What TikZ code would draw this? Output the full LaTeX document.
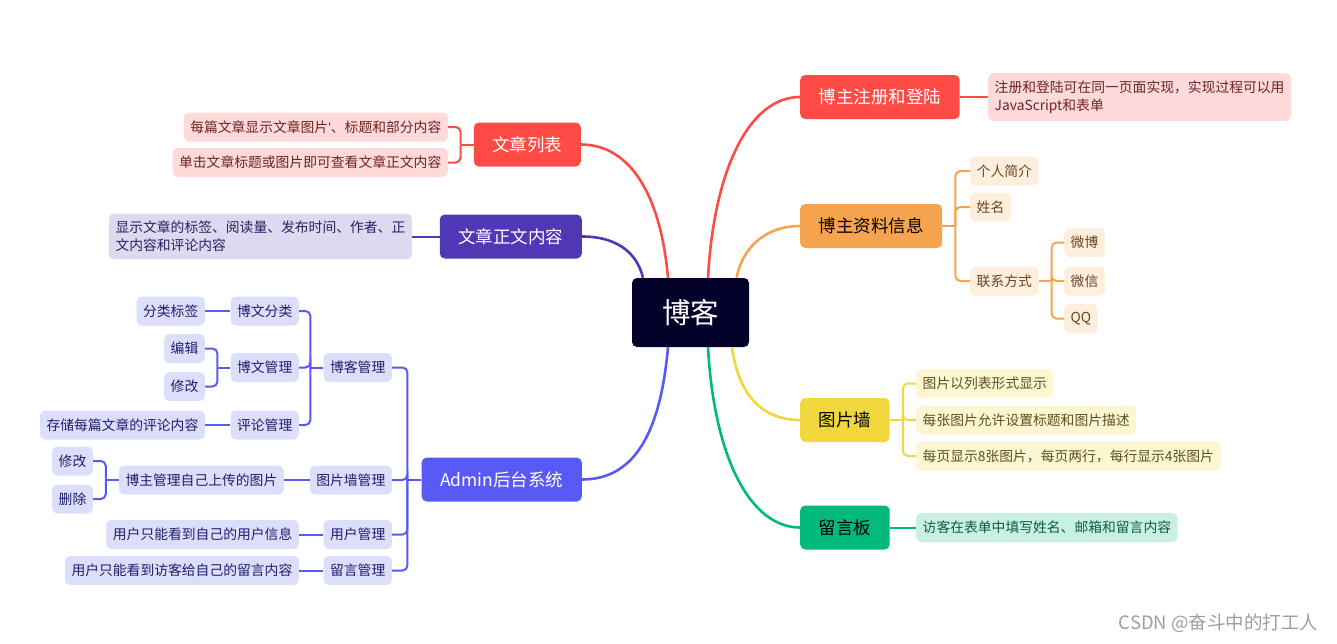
\documentclass[tikz,border=0pt]{standalone}
\usepackage{fontspec}
\setmainfont{Noto Sans CJK SC}
\newfontfamily\latinfont{Liberation Sans}
\usepackage{xcolor}
\usepackage{tikz}
\usetikzlibrary{positioning, calc}

\definecolor{rootC}{HTML}{03002A}
\definecolor{redM}{HTML}{FF4B45}
\definecolor{redL}{HTML}{FFDADA}
\definecolor{redT}{HTML}{6E2222}
\definecolor{purM}{HTML}{5037B5}
\definecolor{purL}{HTML}{DCDAF0}
\definecolor{purT}{HTML}{2A2060}
\definecolor{bluM}{HTML}{5959F6}
\definecolor{bluL}{HTML}{DCDFFB}
\definecolor{bluT}{HTML}{1E1E6E}
\definecolor{orgM}{HTML}{F7A451}
\definecolor{orgL}{HTML}{FDEEDD}
\definecolor{orgT}{HTML}{6B4420}
\definecolor{yelM}{HTML}{F1D73C}
\definecolor{yelL}{HTML}{FCF6D3}
\definecolor{yelT}{HTML}{5E5020}
\definecolor{grnM}{HTML}{00B97B}
\definecolor{grnL}{HTML}{C9F1E3}
\definecolor{grnT}{HTML}{0F5A40}

\begin{document}
\begin{tikzpicture}[x=1pt, y=-1pt,
    root/.style={fill=rootC, text=white, rounded corners=5pt, minimum width=117pt, minimum height=69pt, font=\fontsize{28.5}{32}\selectfont},
    topic/.style={rounded corners=5pt, minimum height=44pt, inner xsep=18.5pt, font=\fontsize{17.5}{21}\selectfont},
    leaf/.style={rounded corners=5pt, minimum height=29pt, inner xsep=6.5pt, inner ysep=3pt, font=\fontsize{13.8}{18}\selectfont},
    mainline/.style={line width=2.6pt},
    forkline/.style={line width=2pt, rounded corners=5pt}
]
        \useasboundingbox (0,0) rectangle (1337,643);

        % Racine
        \node[root] (blog) at (690.5,312.5) {博客};

        % Branches gauche
        \node[topic, fill=redM, text=white, anchor=east] (list) at (581,144.5) {文章列表};
        \node[leaf, fill=redL, text=redT, anchor=east] (listA) at (448,127) {每篇文章显示文章图片{\latinfont'}、标题和部分内容};
        \node[leaf, fill=redL, text=redT, anchor=east] (listB) at (448,162.5) {单击文章标题或图片即可查看文章正文内容};

        \node[topic, fill=purM, text=white, anchor=east] (body) at (582,236.5) {文章正文内容};
        \node[leaf, fill=purL, text=purT, anchor=east, align=left, inner ysep=7.5pt] (bodyA) at (412,236.5) {显示文章的标签、阅读量、发布时间、作者、正\\文内容和评论内容};

        \node[topic, fill=bluM, text=white, anchor=east] (admin) at (582,479.5) {Admin后台系统};
        \node[leaf, fill=bluL, text=bluT, anchor=east] (mgBlog) at (392,367.5) {博客管理};
        \node[leaf, fill=bluL, text=bluT, anchor=east] (mgPic) at (392,480) {图片墙管理};
        \node[leaf, fill=bluL, text=bluT, anchor=east] (mgUser) at (392,534.5) {用户管理};
        \node[leaf, fill=bluL, text=bluT, anchor=east] (mgMsg) at (392,570.5) {留言管理};
        \node[leaf, fill=bluL, text=bluT, anchor=east] (mgCat) at (299,311) {博文分类};
        \node[leaf, fill=bluL, text=bluT, anchor=east] (mgPost) at (299,367.5) {博文管理};
        \node[leaf, fill=bluL, text=bluT, anchor=east] (mgCmt) at (299,425) {评论管理};
        \node[leaf, fill=bluL, text=bluT, anchor=east] (mgTag) at (205,311) {分类标签};
        \node[leaf, fill=bluL, text=bluT, anchor=east] (mgEdit) at (205,348.5) {编辑};
        \node[leaf, fill=bluL, text=bluT, anchor=east] (mgMod) at (205,386.5) {修改};
        \node[leaf, fill=bluL, text=bluT, anchor=east] (mgStore) at (205,425) {存储每篇文章的评论内容};
        \node[leaf, fill=bluL, text=bluT, anchor=east] (picOwn) at (284,480) {博主管理自己上传的图片};
        \node[leaf, fill=bluL, text=bluT, anchor=east] (picMod) at (93,461) {修改};
        \node[leaf, fill=bluL, text=bluT, anchor=east] (picDel) at (93,499) {删除};
        \node[leaf, fill=bluL, text=bluT, anchor=east] (userInfo) at (299,534.5) {用户只能看到自己的用户信息};
        \node[leaf, fill=bluL, text=bluT, anchor=east] (msgInfo) at (299,570.5) {用户只能看到访客给自己的留言内容};

        % Branches droite
        \node[topic, fill=redM, text=white, anchor=west] (reg) at (800,97) {博主注册和登陆};
        \node[leaf, fill=redL, text=redT, anchor=west, align=left, inner ysep=7.5pt] (regA) at (988,97) {注册和登陆可在同一页面实现，实现过程可以用\\JavaScript和表单};

        \node[topic, fill=orgM, text=black, anchor=west] (prof) at (800,226) {博主资料信息};
        \node[leaf, fill=orgL, text=orgT, anchor=west] (profIntro) at (970,171) {个人简介};
        \node[leaf, fill=orgL, text=orgT, anchor=west] (profName) at (970,207) {姓名};
        \node[leaf, fill=orgL, text=orgT, anchor=west] (profContact) at (970,281) {联系方式};
        \node[leaf, fill=orgL, text=orgT, anchor=west] (wb) at (1064,242.5) {微博};
        \node[leaf, fill=orgL, text=orgT, anchor=west] (wx) at (1064,281) {微信};
        \node[leaf, fill=orgL, text=orgT, anchor=west] (qq) at (1064,318.5) {QQ};

        \node[topic, fill=yelM, text=black, anchor=west] (wall) at (800,420) {图片墙};
        \node[leaf, fill=yelL, text=yelT, anchor=west] (wallA) at (916,383.5) {图片以列表形式显示};
        \node[leaf, fill=yelL, text=yelT, anchor=west] (wallB) at (916,420) {每张图片允许设置标题和图片描述};
        \node[leaf, fill=yelL, text=yelT, anchor=west] (wallC) at (916,456) {每页显示8张图片，每页两行，每行显示4张图片};

        \node[topic, fill=grnM, text=black, anchor=west] (board) at (800,527.5) {留言板};
        \node[leaf, fill=grnL, text=grnT, anchor=west] (boardA) at (916,527.5) {访客在表单中填写姓名、邮箱和留言内容};

        % Courbes depuis la racine
        \draw[mainline, redM] ([xshift=-22.5pt]blog.north) .. controls +(-8,-90) and +(45,0) .. (list.east);
        \draw[mainline, purM] ([xshift=-47.5pt]blog.north) .. controls +(-6,-25) and +(35,0) .. (body.east);
        \draw[mainline, bluM] ([xshift=-22.5pt]blog.south) .. controls +(-8,90) and +(50,0) .. (admin.east);
        \draw[mainline, redM] ([xshift=17.5pt]blog.north) .. controls +(6,-110) and +(-50,0) .. (reg.west);
        \draw[mainline, orgM] ([xshift=46pt]blog.north) .. controls +(6,-30) and +(-35,0) .. (prof.west);
        \draw[mainline, yelM] ([xshift=41.5pt]blog.south) .. controls +(6,45) and +(-40,0) .. (wall.west);
        \draw[mainline, grnM] ([xshift=17.5pt]blog.south) .. controls +(6,110) and +(-50,0) .. (board.west);

        % Embranchements
        \draw[forkline, redM] (list.west) -- ++(-13,0) coordinate (listJ);
        \foreach \c in {listA, listB} \draw[forkline, redM] (listJ) |- (\c.east);
        \draw[forkline, purM] (body.west) -- (bodyA.east);

        \draw[forkline, bluM] (admin.west) -- ++(-14,0) coordinate (adminJ);
        \foreach \c in {mgBlog, mgPic, mgUser, mgMsg} \draw[forkline, bluM] (adminJ) |- (\c.east);
        \draw[forkline, bluM] (mgBlog.west) -- ++(-13,0) coordinate (blogJ);
        \foreach \c in {mgCat, mgPost, mgCmt} \draw[forkline, bluM] (blogJ) |- (\c.east);
        \draw[forkline, bluM] (mgCat.west) -- (mgTag.east);
        \draw[forkline, bluM] (mgPost.west) -- ++(-13,0) coordinate (postJ);
        \foreach \c in {mgEdit, mgMod} \draw[forkline, bluM] (postJ) |- (\c.east);
        \draw[forkline, bluM] (mgCmt.west) -- (mgStore.east);
        \draw[forkline, bluM] (mgPic.west) -- (picOwn.east);
        \draw[forkline, bluM] (picOwn.west) -- ++(-13,0) coordinate (ownJ);
        \foreach \c in {picMod, picDel} \draw[forkline, bluM] (ownJ) |- (\c.east);
        \draw[forkline, bluM] (mgUser.west) -- (userInfo.east);
        \draw[forkline, bluM] (mgMsg.west) -- (msgInfo.east);

        \draw[forkline, redM] (reg.east) -- (regA.west);
        \draw[forkline, orgM] (prof.east) -- ++(13,0) coordinate (profJ);
        \foreach \c in {profIntro, profName, profContact} \draw[forkline, orgM] (profJ) |- (\c.west);
        \draw[forkline, orgM] (profContact.east) -- ++(13,0) coordinate (contactJ);
        \foreach \c in {wb, wx, qq} \draw[forkline, orgM] (contactJ) |- (\c.west);
        \draw[forkline, yelM] (wall.east) -- ++(13,0) coordinate (wallJ);
        \foreach \c in {wallA, wallB, wallC} \draw[forkline, yelM] (wallJ) |- (\c.west);
        \draw[forkline, grnM] (board.east) -- (boardA.west);

        % Filigrane
        \node[text=black!38, anchor=east, font=\fontsize{18.5}{21}\selectfont] (mark) at (1322,623) {CSDN @奋斗中的打工人};
\end{tikzpicture}
\end{document}
